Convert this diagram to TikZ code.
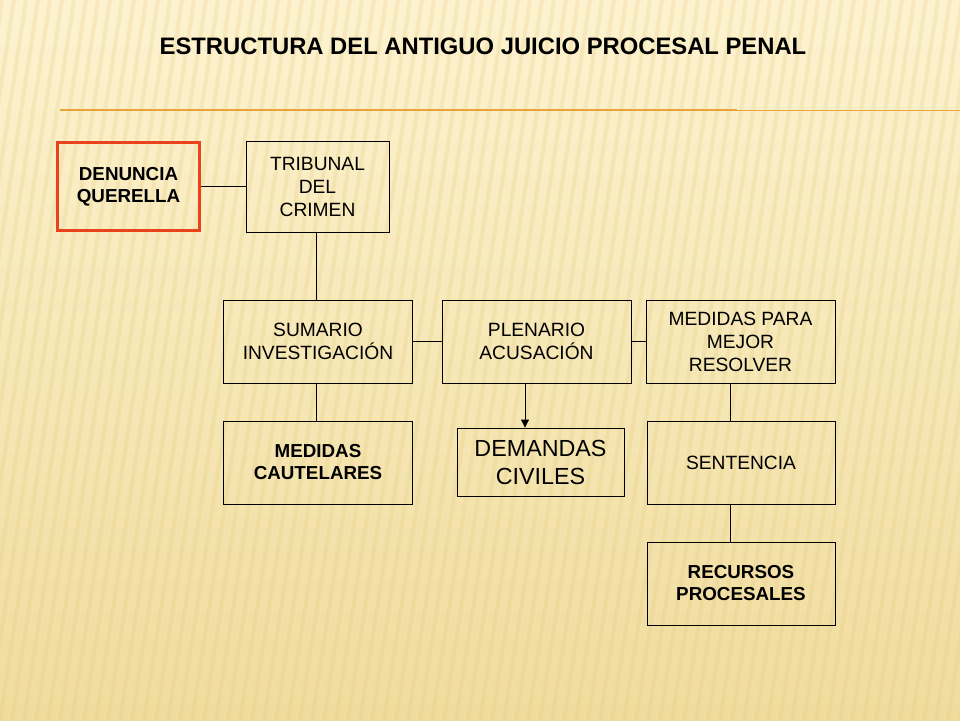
\documentclass[tikz,border=0pt]{standalone}
\usepackage{fontspec}
\setmainfont{Liberation Sans}
\usepackage{tikz}
\usetikzlibrary{arrows.meta}

\definecolor{fondoarriba}{RGB}{253,243,208}
\definecolor{fondoabajo}{RGB}{240,220,158}
\definecolor{raya}{RGB}{226,200,120}
\definecolor{linea}{RGB}{232,163,58}
\definecolor{rojo}{RGB}{234,66,28}

\tikzset{
  caja/.style={draw, line width=0.9pt, align=center, inner sep=2pt,
    minimum width=189pt, minimum height=83pt,
    font=\fontsize{19.2}{23}\selectfont},
  negrita/.style={font=\fontsize{18.8}{22}\selectfont\bfseries},
  union/.style={line width=0.9pt}
}

\begin{document}
\begin{tikzpicture}[x=1pt, y=-1pt]
  \useasboundingbox (0,0) rectangle (960,720);
  \shade[top color=fondoarriba, bottom color=fondoabajo] (0,0) rectangle (960,720);
  % rayas del fondo
  \foreach \i in {-120,-108,...,960}
    \draw[raya, opacity=0.22, line width=4pt] (\i,720) -- (\i+110,0);
  \draw[linea, line width=1.6pt] (60,110) -- (737,110);
  \draw[linea, line width=0.9pt] (737,110) -- (960,110);

  \node (titulo) at (483,46) {\fontsize{23.8}{28}\selectfont\bfseries ESTRUCTURA DEL ANTIGUO JUICIO PROCESAL PENAL};

  \node[caja, negrita, draw=rojo, line width=3pt, minimum width=142pt, minimum height=88pt] (denuncia) at (128.5,186.5) {DENUNCIA\\QUERELLA};
  \node[caja, minimum width=143pt, minimum height=91pt] (tribunal) at (317.5,186.5) {TRIBUNAL\\DEL\\CRIMEN};
  \node[caja] (sumario) at (318,341.5) {SUMARIO\\INVESTIGACIÓN};
  \node[caja] (plenario) at (536.5,341.5) {PLENARIO\\ACUSACIÓN};
  \node[caja] (medidas) at (740.5,341.5) {MEDIDAS PARA\\MEJOR\\RESOLVER};
  \node[caja, negrita] (cautelares) at (318,462.5) {MEDIDAS\\CAUTELARES};
  \node[caja, minimum width=167pt, minimum height=68pt, font=\fontsize{23.3}{28}\selectfont] (demandas) at (540.5,462) {DEMANDAS\\CIVILES};
  \node[caja, minimum width=188pt] (sentencia) at (741,462.5) {SENTENCIA};
  \node[caja, negrita, minimum width=188pt] (recursos) at (741,583.5) {RECURSOS\\PROCESALES};

  \draw[union] (denuncia) -- (tribunal);
  \draw[union] ([xshift=-1.5pt]tribunal.south) -- ([xshift=-2pt]sumario.north);
  \draw[union] (sumario) -- (plenario);
  \draw[union] (plenario) -- (medidas);
  \draw[union] ([xshift=-2pt]sumario.south) -- ([xshift=-2pt]cautelares.north);
  \draw[union, -{Triangle[length=8pt, width=8pt]}] ([xshift=-11.5pt]plenario.south) -- ([xshift=-15.5pt]demandas.north);
  \draw[union] ([xshift=-10.5pt]medidas.south) -- ([xshift=-11pt]sentencia.north);
  \draw[union] ([xshift=-11pt]sentencia.south) -- ([xshift=-11pt]recursos.north);
\end{tikzpicture}
\end{document}
